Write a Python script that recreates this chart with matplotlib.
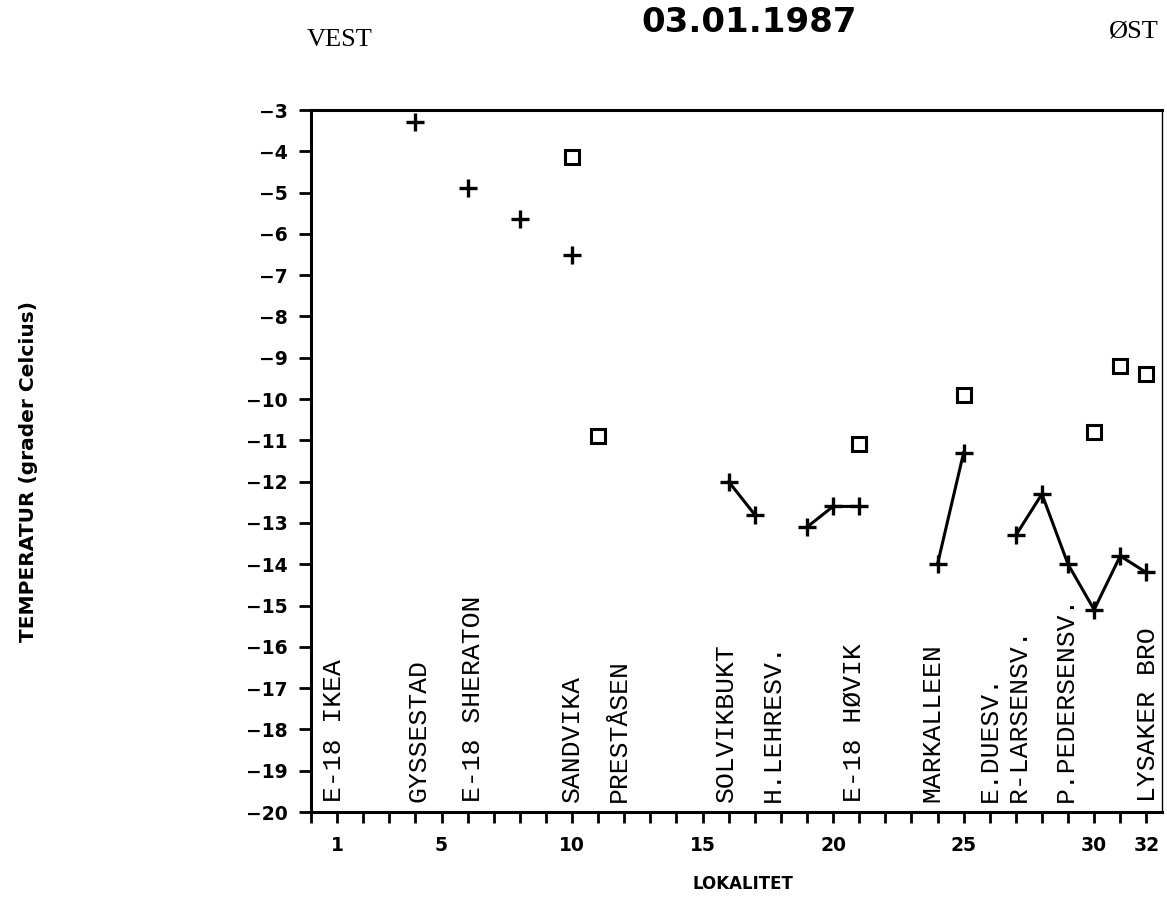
import numpy as np
import pandas as pd
import matplotlib.pyplot as plt

# Temperature along the road, west -> east (lokalitet number)
cross_x = [4, 6, 8, 10, 16, 17, 19, 20, 21, 24, 25, 27, 28, 29, 30, 31, 32]
cross_t = [-3.3, -4.9, -5.65, -6.5, -12.0, -12.8, -13.1, -12.6, -12.6,
           -14.0, -11.3, -13.3, -12.3, -14.0, -15.1, -13.8, -14.2]

square_x = [10, 11, 21, 25, 30, 31, 32]
square_t = [-4.15, -10.9, -11.1, -9.9, -10.8, -9.2, -9.4]

station_names = ['E-18 IKEA', 'GYSSESTAD', 'E-18 SHERATON', 'SANDVIKA', 'PRESTÅSEN',
                 'SOLVIKBUKT', 'H.LEHRESV.', 'E-18 HØVIK', 'MARKALLEEN', 'E.DUESV.',
                 'R-LARSENSV.', 'P.PEDERSENSV.', 'LYSAKER BRO']
station_pos = [0.9, 4.1, 6.2, 10.0, 11.8, 15.9, 17.7, 20.8, 23.8, 26.0, 27.1, 28.9, 32.05]

xtick_labels = [1, 5, 10, 15, 20, 25, 30, 32]
yticks = list(range(-20, -2))

W, H = 1167, 897
fig = plt.figure(figsize=(W / 100, H / 100), dpi=100)
ax = fig.add_axes([311 / W, (H - 812) / H, (1162 - 311) / W, (812 - 110) / H])

# crosses joined where neighbouring stations both have a reading
series = pd.Series(cross_t, index=cross_x).reindex(range(1, 33))
ax.plot(series.index, series.values, color='black', lw=2.2,
        marker='+', ms=13, mew=2.4)
ax.plot(square_x, square_t, ls='none', marker='s', ms=10,
        mfc='white', mec='black', mew=2.2)

ax.set_xlim(0, 32.6)
ax.set_ylim(-20, -3)

ax.set_xticks(range(0, 33))
ax.set_xticklabels([str(i) if i in xtick_labels else '' for i in range(0, 33)])
ax.set_yticks(yticks)

for sp in ax.spines.values():
    sp.set_linewidth(2.2)
ax.spines['right'].set_linewidth(1.0)

ax.tick_params(axis='y', direction='out', length=9, width=2, pad=8)
ax.tick_params(axis='x', direction='out', length=8, width=2, pad=9)
for lab in ax.get_xticklabels() + ax.get_yticklabels():
    lab.set_fontfamily('DejaVu Sans')
    lab.set_fontweight('bold')
    lab.set_fontsize(13.5)

for name, pos in zip(station_names, station_pos):
    ax.text(pos, -19.75, name, rotation=90, ha='center', va='bottom',
            family='Liberation Mono', fontsize=19)

fig.text(749 / W, 1 - 23 / H, '03.01.1987', ha='center', va='center',
         family='DejaVu Sans', fontweight='bold', fontsize=24.5)
fig.text(340 / W, 1 - 40 / H, 'VEST', ha='center', va='center',
         family='Liberation Serif', fontsize=19)
fig.text(1134 / W, 1 - 32 / H, 'ØST', ha='center', va='center',
         family='Liberation Serif', fontsize=19)
fig.text(29 / W, 1 - 472 / H, 'TEMPERATUR (grader Celcius)', rotation=90,
         ha='center', va='center', family='DejaVu Sans', fontweight='bold',
         fontsize=14.5)
fig.text(743 / W, 1 - 884 / H, 'LOKALITET', ha='center', va='center',
         family='DejaVu Sans', fontweight='bold', fontsize=12)

fig.savefig('out.png', dpi=100)
